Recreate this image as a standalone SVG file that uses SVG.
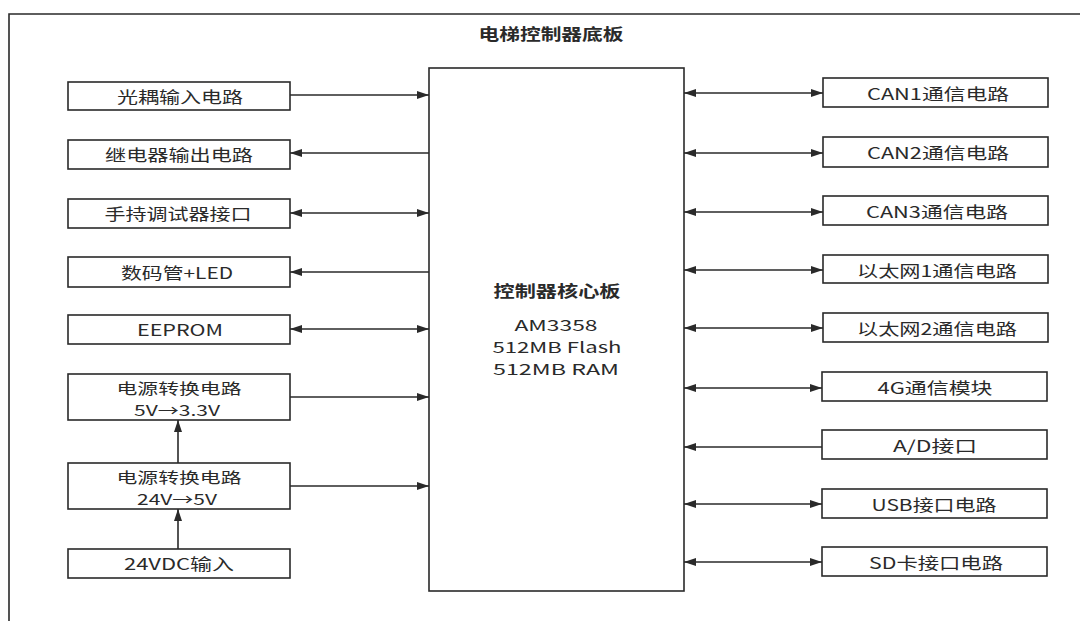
<svg xmlns="http://www.w3.org/2000/svg" width="1080" height="621" viewBox="0 0 1080 621">
<style>
.frame{fill:none;stroke:#2a2a2a;stroke-width:1.6}
.box{fill:#fff;stroke:#2a2a2a;stroke-width:1.6}
.lbl{font-family:"Noto Sans CJK SC","Noto Sans",sans-serif;font-size:16px;fill:#2a2a2a;text-anchor:middle;dominant-baseline:central}
.sm{font-size:15px}
.bold{font-weight:bold}
.conn{stroke:#2a2a2a;stroke-width:1.6;fill:none}
.one{marker-end:url(#ah)}
.two{marker-start:url(#ah);marker-end:url(#ah)}
</style>
<defs>
<marker id="ah" viewBox="0 0 12 8" refX="12" refY="4" markerWidth="12" markerHeight="8" markerUnits="userSpaceOnUse" orient="auto-start-reverse">
<path d="M0,0 L12,4 L0,8 Z" fill="#2a2a2a"/>
</marker>
</defs>
<rect width="1080" height="621" fill="#fff"/>
<path class="frame" d="M9,621 L9,14 L1080,14"/>
<text class="lbl bold" x="551" y="33" textLength="145" lengthAdjust="spacingAndGlyphs">电梯控制器底板</text>

<g id="core">
<rect class="box" x="429" y="68" width="255" height="523"/>
<text class="lbl bold" x="557" y="290" textLength="127" lengthAdjust="spacingAndGlyphs">控制器核心板</text>
<text class="lbl sm" x="556" y="324" textLength="83" lengthAdjust="spacingAndGlyphs">AM3358</text>
<text class="lbl sm" x="557" y="346" textLength="129" lengthAdjust="spacingAndGlyphs">512MB Flash</text>
<text class="lbl sm" x="556" y="368" textLength="126" lengthAdjust="spacingAndGlyphs">512MB RAM</text>
</g>

<g id="n-optin"><rect class="box" x="68" y="82" width="222" height="28"/><text class="lbl" x="180" y="96" textLength="126" lengthAdjust="spacingAndGlyphs">光耦输入电路</text></g>
<g id="n-relay"><rect class="box" x="68" y="140" width="222" height="29"/><text class="lbl" x="179" y="154" textLength="148" lengthAdjust="spacingAndGlyphs">继电器输出电路</text></g>
<g id="n-handheld"><rect class="box" x="68" y="199" width="222" height="29"/><text class="lbl" x="178" y="213" textLength="147" lengthAdjust="spacingAndGlyphs">手持调试器接口</text></g>
<g id="n-led"><rect class="box" x="68" y="257" width="222" height="30"/><text class="lbl" x="177" y="272" textLength="112" lengthAdjust="spacingAndGlyphs">数码管+LED</text></g>
<g id="n-eeprom"><rect class="box" x="68" y="315" width="222" height="29"/><text class="lbl" x="180" y="329" textLength="86" lengthAdjust="spacingAndGlyphs">EEPROM</text></g>
<g id="n-pwr33"><rect class="box" x="68" y="374" width="222" height="46"/><text class="lbl sm" x="179" y="387" textLength="125" lengthAdjust="spacingAndGlyphs">电源转换电路</text><text class="lbl sm" x="177" y="409" textLength="86" lengthAdjust="spacingAndGlyphs">5V→3.3V</text></g>
<g id="n-pwr5"><rect class="box" x="68" y="463" width="222" height="46"/><text class="lbl sm" x="179" y="476" textLength="125" lengthAdjust="spacingAndGlyphs">电源转换电路</text><text class="lbl sm" x="177" y="498" textLength="80" lengthAdjust="spacingAndGlyphs">24V→5V</text></g>
<g id="n-24vdc"><rect class="box" x="68" y="549" width="222" height="29"/><text class="lbl" x="179" y="563" textLength="110" lengthAdjust="spacingAndGlyphs">24VDC输入</text></g>

<g id="n-can1"><rect class="box" x="823" y="78" width="225" height="29"/><text class="lbl" x="938" y="93" textLength="142" lengthAdjust="spacingAndGlyphs">CAN1通信电路</text></g>
<g id="n-can2"><rect class="box" x="823" y="137" width="225" height="30"/><text class="lbl" x="938" y="152" textLength="142" lengthAdjust="spacingAndGlyphs">CAN2通信电路</text></g>
<g id="n-can3"><rect class="box" x="823" y="196" width="225" height="29"/><text class="lbl" x="937" y="211" textLength="142" lengthAdjust="spacingAndGlyphs">CAN3通信电路</text></g>
<g id="n-eth1"><rect class="box" x="823" y="255" width="225" height="28"/><text class="lbl" x="937" y="270" textLength="160" lengthAdjust="spacingAndGlyphs">以太网1通信电路</text></g>
<g id="n-eth2"><rect class="box" x="823" y="313" width="225" height="29"/><text class="lbl" x="937" y="328" textLength="160" lengthAdjust="spacingAndGlyphs">以太网2通信电路</text></g>
<g id="n-4g"><rect class="box" x="822" y="372" width="225" height="29"/><text class="lbl" x="935" y="387" textLength="115" lengthAdjust="spacingAndGlyphs">4G通信模块</text></g>
<g id="n-ad"><rect class="box" x="822" y="430" width="225" height="29"/><text class="lbl" x="935" y="445" textLength="84" lengthAdjust="spacingAndGlyphs">A/D接口</text></g>
<g id="n-usb"><rect class="box" x="822" y="489" width="225" height="29"/><text class="lbl" x="934" y="504" textLength="125" lengthAdjust="spacingAndGlyphs">USB接口电路</text></g>
<g id="n-sd"><rect class="box" x="822" y="547" width="225" height="29"/><text class="lbl" x="936" y="562" textLength="134" lengthAdjust="spacingAndGlyphs">SD卡接口电路</text></g>

<g id="connectors">
<line class="conn one" x1="290" y1="95" x2="429" y2="95"/>
<line class="conn one" x1="429" y1="153" x2="290" y2="153"/>
<line class="conn two" x1="290" y1="213" x2="429" y2="213"/>
<line class="conn one" x1="429" y1="272" x2="290" y2="272"/>
<line class="conn two" x1="290" y1="329" x2="429" y2="329"/>
<line class="conn one" x1="290" y1="397" x2="429" y2="397"/>
<line class="conn one" x1="290" y1="486" x2="429" y2="486"/>
<line class="conn one" x1="178" y1="549" x2="178" y2="509"/>
<line class="conn one" x1="178" y1="463" x2="178" y2="420"/>
<line class="conn two" x1="684" y1="93" x2="823" y2="93"/>
<line class="conn two" x1="684" y1="153" x2="823" y2="153"/>
<line class="conn two" x1="684" y1="212" x2="823" y2="212"/>
<line class="conn two" x1="684" y1="270" x2="823" y2="270"/>
<line class="conn two" x1="684" y1="328" x2="823" y2="328"/>
<line class="conn two" x1="684" y1="388" x2="822" y2="388"/>
<line class="conn one" x1="822" y1="447" x2="684" y2="447"/>
<line class="conn two" x1="684" y1="504" x2="822" y2="504"/>
<line class="conn two" x1="684" y1="562" x2="822" y2="562"/>
</g>
</svg>
